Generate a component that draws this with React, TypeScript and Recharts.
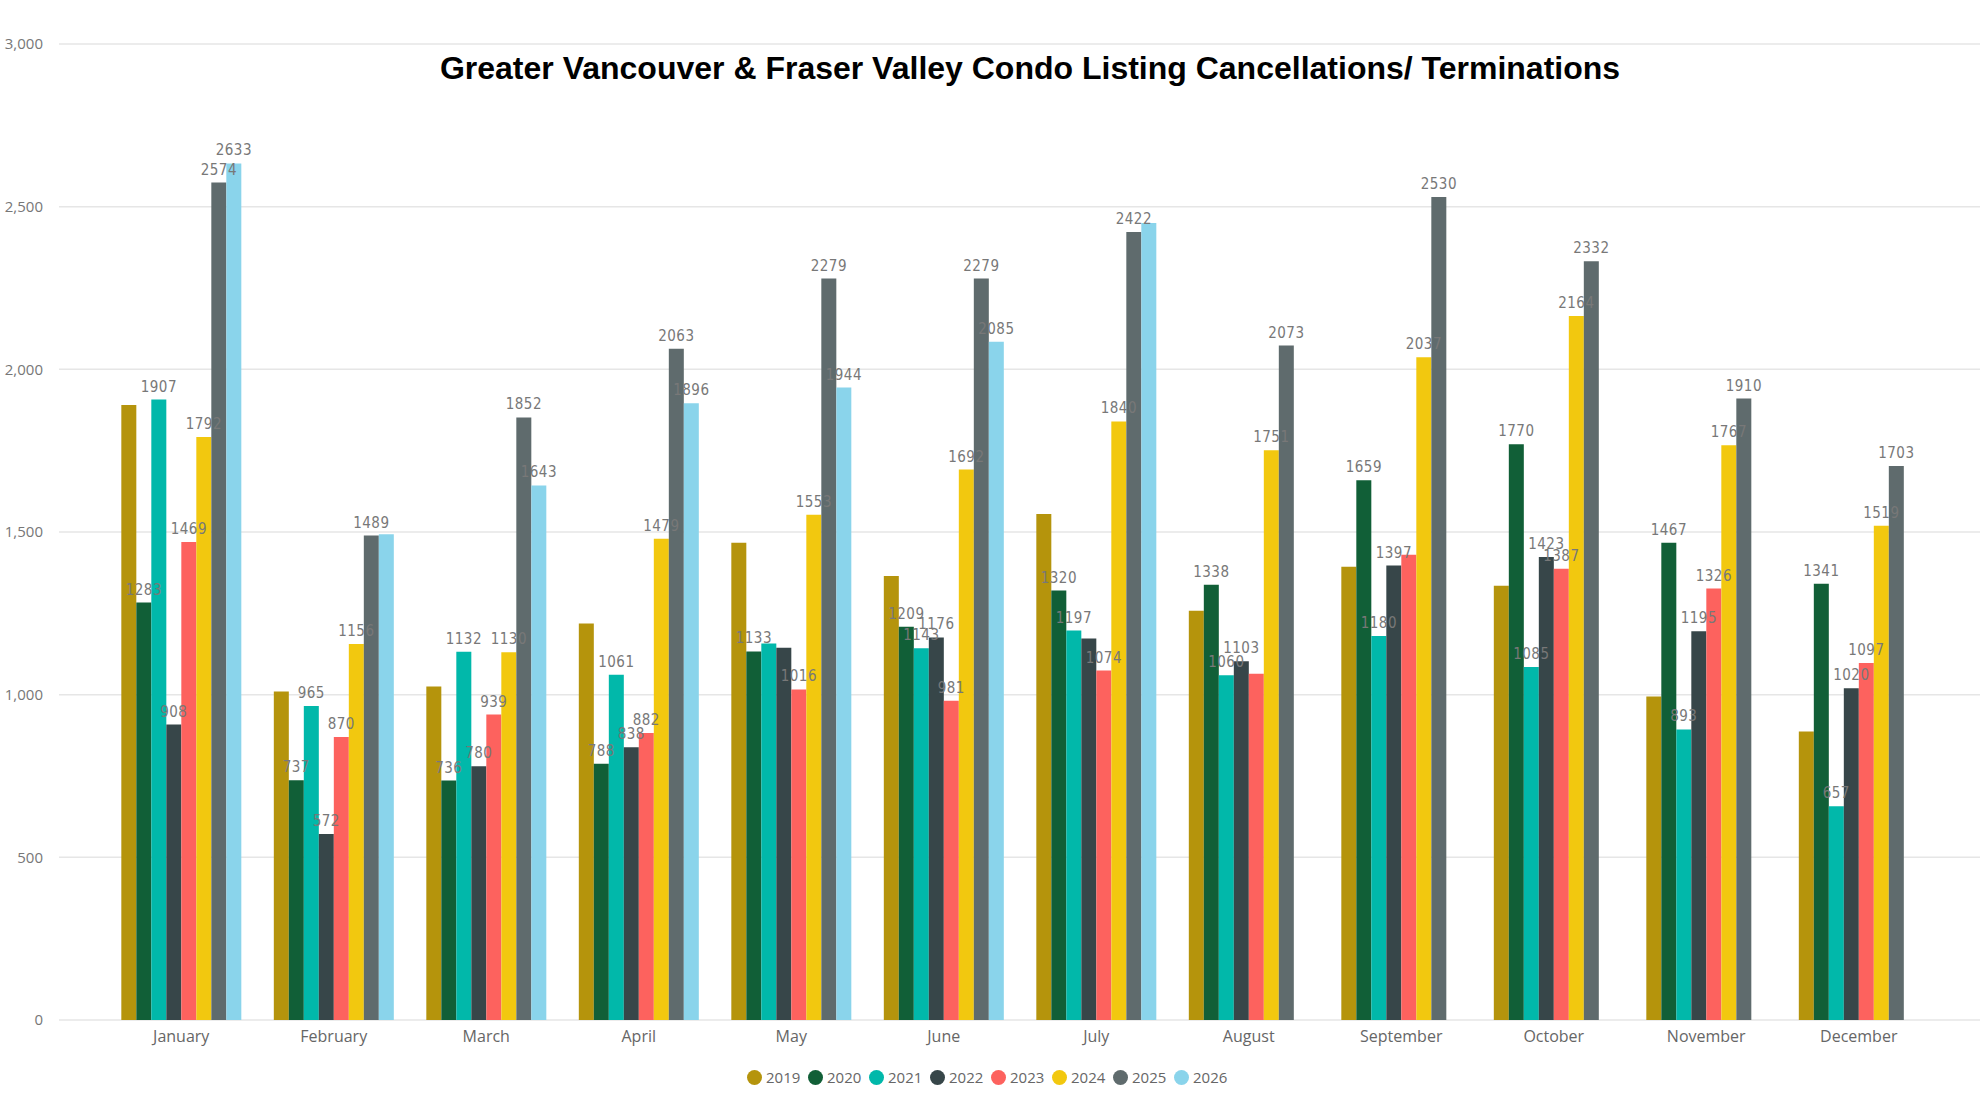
import { BarChart, Bar, XAxis, YAxis, CartesianGrid, Legend, LabelList } from 'recharts'

const months = ['January', 'February', 'March', 'April', 'May', 'June', 'July', 'August', 'September', 'October', 'November', 'December']

const years = ['2019', '2020', '2021', '2022', '2023', '2024', '2025', '2026']

const v2019 = [1890, 1010, 1025, 1219, 1467, 1365, 1555, 1258, 1393, 1335, 994, 887]
const v2020 = [1283, 737, 736, 788, 1133, 1209, 1320, 1338, 1659, 1770, 1467, 1341]
const v2021 = [1907, 965, 1132, 1061, 1157, 1143, 1197, 1060, 1180, 1085, 893, 657]
const v2022 = [908, 572, 780, 838, 1144, 1176, 1173, 1103, 1397, 1423, 1195, 1020]
const v2023 = [1469, 870, 939, 882, 1016, 981, 1074, 1064, 1430, 1387, 1326, 1097]
const v2024 = [1792, 1156, 1130, 1479, 1553, 1692, 1840, 1751, 2037, 2164, 1767, 1519]
const v2025 = [2574, 1489, 1852, 2063, 2279, 2279, 2422, 2073, 2530, 2332, 1910, 1703]
const v2026 = [2633, 1493, 1643, 1896, 1944, 2085, 2450, null, null, null, null, null]

const colors = ['#B5940C', '#115F37', '#01B8AA', '#374649', '#FD625E', '#F2C80F', '#5F6B6D', '#8AD4EB']

const yTicks = [0, 500, 1000, 1500, 2000, 2500, 3000]

// labels the original chart hid (overlaps); the 2019 series shows none at all
const hiddenLabels = ['May 2021', 'May 2022', 'July 2022', 'August 2023', 'September 2023', 'February 2026', 'July 2026']

const series = [v2019, v2020, v2021, v2022, v2023, v2024, v2025, v2026]

const data = months.map((m, i) => {
  const row: Record<string, any> = { month: m }
  years.forEach((y, s) => {
    const v = series[s][i]
    row[y] = v
    row[y + 'Label'] = y === '2019' || hiddenLabels.includes(`${m} ${y}`) ? null : v
  })
  return row
})

const font = '"Open Sans", "Noto Sans", sans-serif'

const LegendContent = ({ payload }: any) => (
  <div style={{ display: 'flex', position: 'absolute', left: 747, top: 1069, whiteSpace: 'nowrap' }}>
    {(payload || []).map((p: any) => (
      <div key={p.value} style={{ display: 'flex', alignItems: 'center', width: 61 }}>
        <span style={{ width: 15, height: 15, borderRadius: '50%', background: p.color, display: 'inline-block', marginRight: 4 }} />
        <span style={{ fontFamily: font, fontSize: 15, color: '#666', lineHeight: '16px' }}>{p.value}</span>
      </div>
    ))}
  </div>
)

// same layout for both layers so the label layer lines up with the bars
const chartProps = {
  width: 1980,
  height: 1098,
  data,
  margin: { top: 44, right: 0, bottom: 0, left: 0 },
  barGap: 0,
  barCategoryGap: '10.7%',
}

export default function App() {
  return (
    <div style={{ position: 'relative', width: 1980, height: 1098, background: '#fff' }}>
      <style>{`body{margin:0}`}</style>
      <div
        style={{
          position: 'absolute',
          top: 52,
          left: 0,
          width: 2060,
          textAlign: 'center',
          fontFamily: '"Liberation Sans", Arial, sans-serif',
          fontWeight: 700,
          fontSize: 32,
          lineHeight: '32px',
          color: '#000',
          zIndex: 2,
        }}
      >
        Greater Vancouver &amp; Fraser Valley Condo Listing Cancellations/ Terminations
      </div>

      {/* bars, grid, axes, legend */}
      <BarChart {...chartProps}>
        <CartesianGrid vertical={false} stroke="#e6e6e6" strokeWidth={1.5} />
        <XAxis
          dataKey="month"
          height={78}
          axisLine={false}
          tickLine={false}
          tickSize={0}
          tickMargin={11}
          padding={{ left: 46, right: 45 }}
          tick={{ fill: '#666', fontSize: 16, fontFamily: font }}
          interval={0}
        />
        <YAxis
          width={59}
          domain={[0, 3000]}
          ticks={yTicks}
          axisLine={false}
          tickLine={false}
          tickSize={0}
          tickMargin={16}
          tickFormatter={(v: number) => v.toLocaleString('en-US')}
          tick={{ fill: '#777', fontSize: 15, fontFamily: font }}
        />
        <Legend content={LegendContent} wrapperStyle={{ height: 0, top: 0, left: 0 }} />
        {years.map((y, s) => (
          <Bar key={y} dataKey={y} name={y} fill={colors[s]} isAnimationActive={false} />
        ))}
      </BarChart>

      {/* data labels drawn above every bar */}
      <div style={{ position: 'absolute', left: 0, top: 0, zIndex: 1 }}>
        <BarChart {...chartProps}>
          <XAxis dataKey="month" height={78} axisLine={false} tickLine={false} tick={false} padding={{ left: 46, right: 45 }} />
          <YAxis width={59} domain={[0, 3000]} ticks={yTicks} axisLine={false} tickLine={false} tick={false} />
          {years.map((y) => (
            <Bar key={y} dataKey={y} fill="transparent" isAnimationActive={false}>
              <LabelList
                dataKey={y + 'Label'}
                position="top"
                offset={8}
                fill="#787878"
                style={{ fontFamily: '"DejaVu Sans Condensed", "DejaVu Sans", sans-serif', fontSize: 15, letterSpacing: 0.5 }}
              />
            </Bar>
          ))}
        </BarChart>
      </div>
    </div>
  )
}
